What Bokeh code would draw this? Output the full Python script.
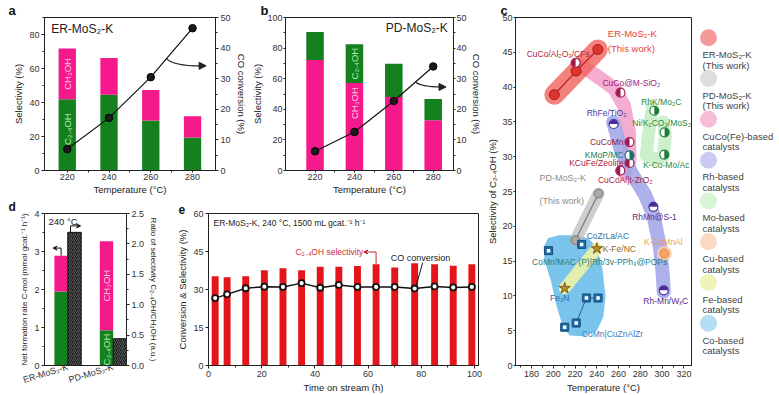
import numpy as np
from math import pi
from bokeh.plotting import figure
from bokeh.layouts import row, column
from bokeh.models import (Range1d, LinearAxis, FixedTicker, Label, Arrow, NormalHead, Title,
                          VeeHead, ColumnDataSource, PrintfTickFormatter)
from bokeh.core.properties import value
from bokeh.embed import file_html
from bokeh.resources import INLINE

FONT = "Liberation Sans"
GREEN = "#15801e"
PINK = "#f5198b"

# ---------------- data ----------------
temps = [220, 240, 260, 280]
a_c24 = [41.9, 44.6, 29.4, 19.4]
a_ch3oh = [29.8, 21.6, 17.9, 12.5]
a_conv = [7.0, 17.2, 30.5, 46.5]

b_ch3oh = [72.2, 57.2, 48.0, 32.9]
b_c24 = [18.4, 25.3, 21.7, 13.9]
b_conv = [6.3, 12.6, 22.7, 34.0]

d_cats = ["ER-MoS₂-K", "PD-MoS₂-K"]
d_c24 = [1.95, 0.93]
d_ch3oh = [0.94, 2.34]
d_ratio = [2.19, 0.44]

e_time = [2.5, 7, 14, 21, 28, 35, 42, 49, 56, 63, 70, 77.5, 85, 92, 99]
e_sel = [35.2, 34.8, 35.2, 37.6, 38.4, 37.6, 39.0, 39.0, 39.3, 40.0, 38.7, 40.4, 40.0, 39.4, 40.0]
e_conv = [26.6, 28.1, 30.5, 31.1, 31.0, 32.5, 30.7, 31.8, 31.0, 31.0, 31.0, 30.4, 31.2, 30.8, 31.0]

er_T = [200.9, 220.9, 240.9]
er_S = [38.9, 42.3, 45.4]
pd_T = [220.3, 241.5]
pd_S = [18.0, 24.7]

lit_names = ["CuCo/Al₂O₃/CFs", "CuCo@M-SiO₂", "CuCoMn", "KCuFe/Zeolite", "CuCoAl|t-ZrO₂",
             "RhFe/TiO₂", "RhMn@S-1", "Rh-Mn/WₓC",
             "RhK/Mo₂C", "Ni/K₂CO₃/MoS₂", "K-Co-Mo/Ac", "KMoP/MC",
             "K-CuMnAl", "K-Fe/NC", "Fe₂N",
             "CoZrLa/AC", "CoMn/MAC (P)|Rh/3v-PPh₃@POPs", "CoMn|CuZnAlZr", "", "", ""]
lit_group = ["cuco", "cuco", "cuco", "cuco", "cuco",
             "rh", "rh", "rh",
             "mo", "mo", "mo", "mo",
             "cu", "fe", "fe",
             "co", "co", "co", "co", "co", "co"]
lit_T = [220.5, 261.7, 270.0, 270.0, 261.5,
         255.4, 292.0, 301.5,
         292.8, 302.3, 302.0, 270.0,
         302.0, 240.0, 210.4,
         226.0, 195.6, 221.0, 210.4, 230.4, 241.1]
lit_S = [43.5, 39.2, 32.1, 29.1, 28.0,
         34.7, 22.8, 10.8,
         36.6, 33.5, 30.3, 30.2,
         16.1, 16.8, 11.1,
         17.4, 16.5, 6.1, 5.5, 9.7, 9.7]

# shaded group bands
band_er_T, band_er_S = [200.9, 240.9], [38.9, 45.4]
band_pd_T, band_pd_S = [220.3, 241.5], [18.0, 24.7]
band_cuco_T = [224, 240, 256, 265, 269.5, 270, 265]
band_cuco_S = [43.2, 41.6, 39.8, 37.3, 33.5, 29.5, 27.6]
band_rh_T = [255, 262, 272, 284, 292, 298, 300.5, 301.5]
band_rh_S = [35.0, 31.0, 27.6, 24.6, 21.6, 17.0, 13.2, 10.6]
band_mo_T = [291, 287.5, 285.5, 293, 301, 303, 301]
band_mo_S = [37.0, 33.2, 30.2, 29.6, 30.0, 33.0, 35.0]
band_fe_T, band_fe_S = [210.4, 240.0], [11.1, 16.8]
band_cu_T, band_cu_S = [302.0], [16.1]
co_blob_T = [191, 195, 205, 220, 232, 240, 245, 248, 246, 240, 228, 215, 209, 203, 198, 192]
co_blob_S = [17.0, 18.3, 18.7, 18.7, 18.3, 17.0, 14.0, 10.0, 7.0, 5.0, 4.2, 4.3, 5.5, 8.5, 12.0, 15.0]

legend_labels = [("ER-MoS₂-K", "(This work)"), ("PD-MoS₂-K", "(This work)"),
                 ("CuCo(Fe)-based", " catalysts"), ("Rh-based", " catalysts"),
                 ("Mo-based", " catalysts"), ("Cu-based", " catalysts"),
                 ("Fe-based", " catalysts"), ("Co-based", " catalysts")]
legend_colors = ["#f59a98", "#dedede", "#f7bcd8", "#c9cbf3", "#d8f5d6", "#fbd9c3", "#eff3b8", "#b3def3"]

# ---------------- helpers ----------------
def mkfig(w, h, xr, yr, bl, br, bt, bb):
    p = figure(width=w, height=h, x_range=xr, y_range=yr, output_backend="svg",
               toolbar_location=None, min_border_left=bl, min_border_right=br,
               min_border_top=bt, min_border_bottom=bb)
    p.grid.visible = False
    p.outline_line_color = "#222"
    p.outline_line_width = 1
    p.background_fill_color = "white"
    p.border_fill_color = "white"
    return p


def style_axis(ax, label, tick_fs="9px", label_fs="9.5px", tick_out=3, std=2, lstd=2):
    ax.axis_label = label
    ax.axis_label_text_font = FONT
    ax.axis_label_text_font_size = label_fs
    ax.axis_label_text_font_style = "normal"
    ax.axis_label_text_color = "#222"
    ax.axis_label_standoff = lstd
    ax.major_label_text_font = FONT
    ax.major_label_text_font_size = tick_fs
    ax.major_label_text_color = "#333"
    ax.major_label_standoff = std
    ax.major_tick_out = tick_out
    ax.major_tick_in = 0
    ax.minor_tick_out = 2
    ax.minor_tick_in = 0
    ax.axis_line_color = "#222"
    ax.major_tick_line_color = "#222"
    ax.minor_tick_line_color = "#222"


def txt(p, x, y, text, size="9px", color="#222", align="left", angle=0,
        baseline="middle", y_range_name="default"):
    p.add_layout(Label(x=x, y=y, text=text, text_font=FONT, text_font_size=size,
                       text_color=color, text_align=align, text_baseline=baseline,
                       angle=angle, y_range_name=y_range_name))


def letter(p, s, offset, size="13px"):
    p.title = Title(text=s, align="left", offset=offset, standoff=0, text_font=FONT,
                    text_font_size=size, text_font_style="bold", text_color="#111",
                    text_line_height=0.8)


def curved_arrow(p, x_line, conv, xs, dx_ctrl, end_x, end_y):
    y0 = float(np.interp(xs, x_line, conv))
    p.quadratic(x0=[xs], y0=[y0], x1=[end_x], y1=[end_y], cx=[xs + dx_ctrl], cy=[end_y],
                line_color="#222", line_width=1.2, y_range_name="conv")
    p.add_layout(Arrow(x_start=end_x - 1, y_start=end_y, x_end=end_x + 2.5, y_end=end_y,
                       line_color="#222", line_width=1.2, y_range_name="conv",
                       end=NormalHead(size=7, fill_color="#222", line_color="#222")))


TOP_H = 197
BOT_H = 395 - TOP_H

# ---------------- panel a ----------------
WA = 249
pa = mkfig(WA, TOP_H, Range1d(209.1, 291.0), Range1d(0, 90), 44, 31, 16, 25)
pa.extra_y_ranges = {"conv": Range1d(0, 50)}
a_top = [c + m for c, m in zip(a_c24, a_ch3oh)]
pa.vbar(x=temps, width=8.3, bottom=0, top=a_c24, fill_color=GREEN, line_color=None)
pa.vbar(x=temps, width=8.3, bottom=a_c24, top=a_top, fill_color=PINK, line_color=None)
pa.line(temps, a_conv, line_color="#111", line_width=1.2, y_range_name="conv")
pa.scatter(temps, a_conv, size=7.5, fill_color="#1b1b1b", line_color="#000", y_range_name="conv")
pa.add_layout(LinearAxis(y_range_name="conv"), "right")
pa.xaxis.ticker = FixedTicker(ticks=temps, minor_ticks=[t + 10 for t in temps[:-1]])
pa.yaxis[0].ticker = FixedTicker(ticks=[0, 20, 40, 60, 80], minor_ticks=[10, 30, 50, 70, 90])
pa.yaxis[1].ticker = FixedTicker(ticks=[0, 10, 20, 30, 40, 50], minor_ticks=[5, 15, 25, 35, 45])
style_axis(pa.xaxis[0], "Temperature (°C)", tick_out=2, std=1, lstd=1)
style_axis(pa.yaxis[0], "Selectivity (%)")
style_axis(pa.yaxis[1], "CO conversion (%)")
txt(pa, 212.3, 83, "ER-MoS₂-K", size="12px")
txt(pa, temps[0], a_c24[0] + a_ch3oh[0] / 2, "CH₃OH", size="9.5px", color="#ffc6e4", align="center", angle=pi / 2)
txt(pa, temps[0], a_c24[0] * 0.58, "C₂₋₄OH", size="9.5px", color="#a8f0a8", align="center", angle=pi / 2)
curved_arrow(pa, temps, a_conv, 267.6, 3.0, 284.0, 34.2)
letter(pa, "a", -36)

# ---------------- panel b ----------------
WB = 235
pb = mkfig(WB, TOP_H, Range1d(205.0, 290.3), Range1d(0, 100), 29, 25, 16, 25)
pb.extra_y_ranges = {"conv": Range1d(0, 50)}
b_top = [c + m for c, m in zip(b_c24, b_ch3oh)]
pb.vbar(x=temps, width=8.9, bottom=0, top=b_ch3oh, fill_color=PINK, line_color=None)
pb.vbar(x=temps, width=8.9, bottom=b_ch3oh, top=b_top, fill_color=GREEN, line_color=None)
pb.line(temps, b_conv, line_color="#111", line_width=1.2, y_range_name="conv")
pb.scatter(temps, b_conv, size=7.5, fill_color="#1b1b1b", line_color="#000", y_range_name="conv")
pb.add_layout(LinearAxis(y_range_name="conv"), "right")
pb.xaxis.ticker = FixedTicker(ticks=temps, minor_ticks=[t + 10 for t in temps[:-1]])
pb.yaxis[0].ticker = FixedTicker(ticks=[0, 20, 40, 60, 80, 100], minor_ticks=[10, 30, 50, 70, 90])
pb.yaxis[1].ticker = FixedTicker(ticks=[0, 10, 20, 30, 40, 50], minor_ticks=[5, 15, 25, 35, 45])
style_axis(pb.xaxis[0], "Temperature (°C)", tick_out=2, std=1, lstd=1)
style_axis(pb.yaxis[0], "Selectivity (%)", tick_out=2, std=1, lstd=1)
style_axis(pb.yaxis[1], "CO conversion (%)", tick_out=2, std=1, lstd=1)
txt(pb, 287.4, 93, "PD-MoS₂-K", size="12px", align="right")
txt(pb, temps[1], b_ch3oh[1] + b_c24[1] / 2, "C₂₋₄OH", size="9.5px", color="#a8f0a8", align="center", angle=pi / 2)
txt(pb, temps[1], b_ch3oh[1] * 0.77, "CH₃OH", size="9.5px", color="#ffc6e4", align="center", angle=pi / 2)
curved_arrow(pb, temps, b_conv, 271.0, 3.0, 284.0, 27.3)
letter(pb, "b", -25)

# ---------------- panel d ----------------
WD = 168
pdd = mkfig(WD, BOT_H, Range1d(0, 82), Range1d(0, 4), 44, 42, 8, 29)
pdd.extra_y_ranges = {"ratio": Range1d(0, 2.5)}
centers = [23.3, 68.7]
bw = 13.4
stack_x = [c - bw / 2 for c in centers]
ratio_x = [c + bw / 2 for c in centers]
d_top = [c + m for c, m in zip(d_c24, d_ch3oh)]
pdd.vbar(x=stack_x, width=bw, bottom=0, top=d_c24, fill_color=GREEN, line_color=None)
pdd.vbar(x=stack_x, width=bw, bottom=d_c24, top=d_top, fill_color=PINK, line_color=None)
pdd.vbar(x=ratio_x, width=bw, bottom=0, top=d_ratio, y_range_name="ratio", fill_color="#1c1c1c",
         line_color="#111", hatch_pattern="/", hatch_color="#6a6a6a", hatch_scale=4, hatch_weight=0.8)
pdd.add_layout(LinearAxis(y_range_name="ratio"), "right")
pdd.xaxis.ticker = FixedTicker(ticks=centers)
pdd.xaxis.major_label_overrides = {centers[0]: d_cats[0], centers[1]: d_cats[1]}
pdd.xaxis.major_label_orientation = 0.3
pdd.yaxis[0].ticker = FixedTicker(ticks=[0, 1, 2, 3, 4], minor_ticks=[0.5, 1.5, 2.5, 3.5])
pdd.yaxis[1].ticker = FixedTicker(ticks=[0, 0.5, 1.0, 1.5, 2.0, 2.5], minor_ticks=[0.25, 0.75, 1.25, 1.75, 2.25])
pdd.yaxis[1].formatter = PrintfTickFormatter(format="%.1f")
style_axis(pdd.xaxis[0], None, tick_fs="9px", std=1)
pdd.xaxis[0].major_tick_out = 0
style_axis(pdd.yaxis[0], "Net formation rate C-mol (mmol gcat.⁻¹ h⁻¹)", label_fs="8px")
style_axis(pdd.yaxis[1], "Ratio of selectivity C₂₋₄OH/CH₃OH (a.u.)", label_fs="8px")
txt(pdd, 4, 3.8, "240 °C", size="9.5px")
txt(pdd, stack_x[1], d_c24[1] + d_ch3oh[1] / 2, "CH₃OH", size="9.5px", color="#ffc6e4", align="center", angle=pi / 2)
txt(pdd, stack_x[1], d_c24[1] * 0.45, "C₂₋₄OH", size="9.5px", color="#a8f0a8", align="center", angle=pi / 2)
yb = d_top[0]
pdd.line([stack_x[0], stack_x[0]], [yb, yb + 0.2], line_color="#111", line_width=1)
pdd.add_layout(Arrow(x_start=stack_x[0], y_start=yb + 0.2, x_end=stack_x[0] - 8, y_end=yb + 0.2,
                     line_color="#111", line_width=1, end=VeeHead(size=4, line_color="#111", line_width=1)))
yr = d_ratio[0] * 4 / 2.5
xr0 = ratio_x[0] - 4
pdd.line([xr0, xr0], [yr, yr + 0.17], line_color="#111", line_width=1)
pdd.add_layout(Arrow(x_start=xr0, y_start=yr + 0.17, x_end=xr0 + 10, y_end=yr + 0.17,
                     line_color="#111", line_width=1, end=VeeHead(size=4, line_color="#111", line_width=1)))
letter(pdd, "d", -36, size="12px")

# ---------------- panel e ----------------
WE = 316
pe = mkfig(WE, BOT_H, Range1d(0, 101.5), Range1d(0, 60), 40, 6, 8, 29)
pe.vbar(x=e_time, width=2.6, bottom=0, top=e_sel, fill_color="#e4161b", line_color=None)
pe.line(e_time, e_conv, line_color="#111", line_width=1.4)
pe.scatter(e_time, e_conv, size=6, fill_color="white", line_color="#111", line_width=1.8)
pe.xaxis.ticker = FixedTicker(ticks=[0, 20, 40, 60, 80, 100], minor_ticks=[10, 30, 50, 70, 90])
pe.yaxis.ticker = FixedTicker(ticks=[0, 15, 30, 45, 60])
style_axis(pe.xaxis[0], "Time on stream (h)")
style_axis(pe.yaxis[0], "Conversion & Selectivity (%)")
txt(pe, 1.9, 56.2, "ER-MoS₂-K, 240 °C, 1500 mL gcat.⁻¹ h⁻¹", size="8.5px")
ix = 9
bx, by = e_time[ix], e_sel[ix]
pe.line([bx, bx, bx - 2.5], [by, by + 4.8, by + 4.8], line_color="#c0282d", line_width=1)
pe.add_layout(Arrow(x_start=bx - 2.5, y_start=by + 4.8, x_end=bx - 4.6, y_end=by + 4.8,
                    line_color="#c0282d", line_width=1, end=VeeHead(size=4, line_color="#c0282d", line_width=1)))
txt(pe, bx - 4.8, by + 4.8, "C₂₋₄OH selectivity", size="8.5px", color="#d42a2e", align="right")
jx = 11
cx, cy = e_time[jx], e_conv[jx]
pe.line([cx + 0.5, cx + 3.0], [cy + 0.8, cy + 10.2], line_color="#111", line_width=1)
txt(pe, cx + 2.2, cy + 12.0, "CO conversion", size="9px", align="center")
letter(pe, "e", -30, size="12px")

# ---------------- panel c ----------------
WC, HC = 212, 395
pc = mkfig(WC, HC, Range1d(165.2, 327.0), Range1d(0, 50), 24, 5, 17, 29)
pc.patch(co_blob_T, co_blob_S, fill_color="#62baea", fill_alpha=0.85, line_color=None)
band_kw = dict(line_cap="round", line_join="round")
pc.line(band_pd_T, band_pd_S, line_color="#bdbdbd", line_alpha=0.75, line_width=12, **band_kw)
pc.line(band_cuco_T, band_cuco_S, line_color="#f3a3cb", line_alpha=0.9, line_width=14, **band_kw)
pc.line(band_rh_T, band_rh_S, line_color="#9ea3e8", line_alpha=0.85, line_width=14, **band_kw)
pc.line(band_mo_T, band_mo_S, line_color="#c6f0c4", line_alpha=0.9, line_width=13, **band_kw)
pc.line(band_fe_T, band_fe_S, line_color="#eef2a6", line_alpha=0.9, line_width=12, **band_kw)
pc.scatter(band_cu_T, band_cu_S, size=15, fill_color="#f9cbb0", line_color=None, fill_alpha=0.9)
pc.line(band_er_T, band_er_S, line_color="#f0625c", line_alpha=0.8, line_width=20, **band_kw)

pc.line(er_T, er_S, line_color="#b8201c", line_width=1.2)
pc.scatter(er_T, er_S, size=10, fill_color="#de3530", line_color="#a51a16")
pc.line(pd_T, pd_S, line_color="#777", line_width=1.2)
pc.scatter(pd_T, pd_S, size=9, fill_color="#a8a8a8", line_color="#7a7a7a")

gcol = {"cuco": "#a0184e", "rh": "#4b2a96", "mo": "#1d7a3b", "cu": "#f0a25a", "fe": "#a8822c", "co": "#1f6aa5"}
co_idx = [i for i, g in enumerate(lit_group) if g == "co"]
pc.line([lit_T[20], lit_T[19], lit_T[17]], [lit_S[20], lit_S[19], lit_S[17]], line_color="#1f5f99", line_width=1)

half_angle = {"cuco": (pi / 2, 3 * pi / 2), "rh": (0, pi), "mo": (-pi / 2, pi / 2)}
for g, (sa, ea) in half_angle.items():
    idx = [i for i, gg in enumerate(lit_group) if gg == g]
    xs = [lit_T[i] for i in idx]
    ys = [lit_S[i] for i in idx]
    cols = ["#1a6b66" if lit_names[i] == "KMoP/MC" else gcol[g] for i in idx]
    pc.scatter(xs, ys, size=9, fill_color="white", line_color=cols, line_width=1.2)
    pc.wedge(xs, ys, radius=4.3, radius_units="screen", start_angle=sa, end_angle=ea,
             fill_color=cols, line_color=None)
idx = [i for i, gg in enumerate(lit_group) if gg == "cu"]
pc.scatter([lit_T[i] for i in idx], [lit_S[i] for i in idx], size=9, fill_color="#f2a863", line_color="#e08a40")
idx = [i for i, gg in enumerate(lit_group) if gg == "fe"]
pc.scatter([lit_T[i] for i in idx], [lit_S[i] for i in idx], marker="star", size=12,
           fill_color="#b58a30", line_color="#6d4b12", line_width=0.8)
pc.scatter([lit_T[i] for i in co_idx], [lit_S[i] for i in co_idx], marker="square", size=8,
           fill_color="#1f6aa5", line_color="#154e7e")
pc.scatter([lit_T[i] for i in co_idx], [lit_S[i] for i in co_idx], marker="square", size=3.5,
           fill_color="white", line_color=None)

lab_style = {
    "CuCo/Al₂O₃/CFs": (14, -9, "right", "#b0243a"),
    "CuCo@M-SiO₂": (-18, -10, "left", "#9a2080"),
    "CuCoMn": (-6, 0, "right", "#8a1a40"),
    "KCuFe/Zeolite": (-6, 0, "right", "#b0203a"),
    "CuCoAl|t-ZrO₂": (5, 9, "center", "#b0203a"),
    "RhFe/TiO₂": (-7, -11, "center", "#4a3aa0"),
    "RhMn@S-1": (1, 10, "center", "#5a2a90"),
    "Rh-Mn/WₓC": (2, 11, "center", "#5a2a90"),
    "RhK/Mo₂C": (7, -9, "center", "#2a8a3a"),
    "Ni/K₂CO₃/MoS₂": (-3, -9, "center", "#2a8a3a"),
    "K-Co-Mo/Ac": (2, 10, "center", "#2a8a3a"),
    "KMoP/MC": (-6, 0, "right", "#1a7a5a"),
    "K-CuMnAl": (-1, -11, "center", "#f0a050"),
    "K-Fe/NC": (6, 0, "left", "#8a6a20"),
    "Fe₂N": (-5, 10, "center", "#2a70a0"),
    "CoZrLa/AC": (5, -8, "left", "#2a70a0"),
    "CoMn/MAC (P)|Rh/3v-PPh₃@POPs": (-16.5, 11, "left", "#2a7a80"),
    "CoMn|CuZnAlZr": (5.6, 11, "left", "#3a80c0"),
}
L = [i for i, n in enumerate(lit_names) if n]
lsrc = ColumnDataSource(dict(
    x=[lit_T[i] for i in L], y=[lit_S[i] for i in L], text=[lit_names[i] for i in L],
    dx=[lab_style[lit_names[i]][0] for i in L], dy=[lab_style[lit_names[i]][1] for i in L],
    align=[lab_style[lit_names[i]][2] for i in L], color=[lab_style[lit_names[i]][3] for i in L]))
pc.text(x="x", y="y", text="text", x_offset="dx", y_offset="dy", text_align="align",
        text_color="color", text_baseline="middle", text_font=value(FONT), text_font_size="8.5px",
        source=lsrc)
for dy, s in [(-16, "ER-MoS₂-K"), (-1, "(This work)")]:
    pc.text(x=[er_T[-1]], y=[er_S[-1]], text=[s], x_offset=10, y_offset=dy, text_baseline="middle",
            text_color="#e8403c", text_font=value(FONT), text_font_size="9.5px")
for dy, s in [(-16, "PD-MoS₂-K"), (7, "(This work)")]:
    pc.text(x=[pd_T[-1]], y=[pd_S[-1]], text=[s], x_offset=-59, y_offset=dy, text_baseline="middle",
            text_color="#8c8c8c", text_font=value(FONT), text_font_size="9px")
pc.xaxis.ticker = FixedTicker(ticks=list(range(180, 321, 20)), minor_ticks=list(range(170, 331, 10)))
pc.yaxis.ticker = FixedTicker(ticks=list(range(0, 51, 5)))
style_axis(pc.xaxis[0], "Temperature (°C)")
style_axis(pc.yaxis[0], "Selectivity of C₂₋₄OH (%)", tick_out=2, std=1, lstd=1)
letter(pc, "c", -15)

# ---------------- legend ----------------
WL, HL = 83, 395
pl = figure(width=WL, height=HL, x_range=Range1d(0, WL), y_range=Range1d(HL, 0),
            output_backend="svg", toolbar_location=None, min_border=0)
pl.axis.visible = False
pl.grid.visible = False
pl.outline_line_color = None
pl.border_fill_color = "white"
n = len(legend_labels)
ly = [23 + 46.3 * i for i in range(n)]
pl.scatter([12] * n, ly, size=17, fill_color=legend_colors, line_color=None)
pl.text([6] * n, [y + 19 for y in ly], text=[a for a, b in legend_labels], text_baseline="middle",
        text_font=value(FONT), text_font_size="9.5px", text_color="#444")
pl.text([6] * n, [y + 31 for y in ly], text=[b for a, b in legend_labels], text_baseline="middle",
        text_font=value(FONT), text_font_size="9.5px", text_color="#444")

layout = row(column(row(pa, pb), row(pdd, pe)), pc, pl)
open("out.html", "w").write(file_html(layout, INLINE))
